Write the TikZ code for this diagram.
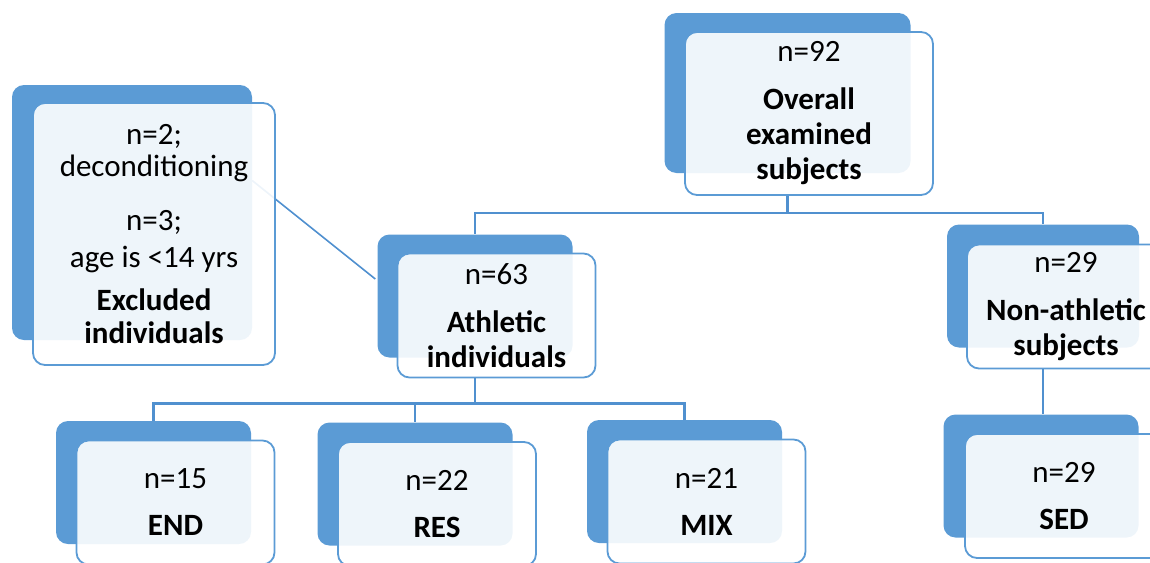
\documentclass[tikz,border=0pt]{standalone}
\usepackage{fontspec}
\setmainfont{Carlito}
\usetikzlibrary{calc}
\definecolor{azul}{HTML}{5B9BD5}
\definecolor{azullinea}{HTML}{5090CF}

\begin{document}
\begin{tikzpicture}[
            x=1pt, y=-1pt,
            fondo/.style={fill=azul, rounded corners=12pt, inner sep=0pt, minimum width=195pt, minimum height=123pt},
            frente/.style={draw=azul, line width=1.8pt, fill=white, fill opacity=0.9, text opacity=1, rounded corners=12pt,
                           inner sep=0pt, align=center, minimum width=198pt, minimum height=124pt,
                           font=\fontsize{31}{35}\selectfont},
            linea/.style={draw=azullinea, line width=2.2pt}
        ]
        \path[use as bounding box, clip] (0,0) rectangle (1150,562);

        % Tarjetas de fondo
        \node[fondo, minimum width=246pt, minimum height=160pt] (ovback) at (787.5,93) {};
        \node[fondo, minimum width=240pt, minimum height=255pt] (exback) at (132,212.5) {};
        \node[fondo] (athback) at (475,296) {};
        \node[fondo, minimum width=192pt] (nonback) at (1043,286) {};
        \node[fondo] (endback) at (153.5,482.5) {};
        \node[fondo] (resback) at (415,484) {};
        \node[fondo] (mixback) at (684.5,481.5) {};
        \node[fondo] (sedback) at (1041,476) {};

        % Excluidos hacia atletas (por debajo de la tarjeta de texto)
        \draw[linea, line width=1.6pt] ([yshift=32pt]exback.east) -- ([yshift=17pt,xshift=-2pt]athback.west);

        % Tarjetas de texto
        \node[frente, minimum width=248pt, minimum height=163pt] (ovfront) at ([shift={(21.5pt,-20.5pt)}]ovback.center)
        {n=92\\[13pt]\textbf{Overall}\\\textbf{examined}\\\textbf{subjects}};
        \node[frente, minimum width=242pt, minimum height=262pt] (exfront) at ([shift={(22pt,-21.5pt)}]exback.center)
        {n=2;\\[-3pt]deconditioning\\[19pt]n=3;\\[2pt]age is <14 yrs\\[8pt]\textbf{Excluded}\\[-2pt]\textbf{individuals}};
        \node[frente] (athfront) at ([shift={(21.5pt,-19.5pt)}]athback.center)
        {n=63\\[13pt]\textbf{Athletic}\\\textbf{individuals}};
        \node[frente] (nonfront) at ([shift={(23pt,-20.5pt)}]nonback.center)
        {n=29\\[13pt]\textbf{Non-athletic}\\\textbf{subjects}};
        \node[frente] (endfront) at ([shift={(22pt,-20pt)}]endback.center)
        {n=15\\[12pt]\textbf{END}};
        \node[frente] (resfront) at ([shift={(22pt,-20pt)}]resback.center)
        {n=22\\[12pt]\textbf{RES}};
        \node[frente] (mixfront) at ([shift={(22pt,-20pt)}]mixback.center)
        {n=21\\[12pt]\textbf{MIX}};
        \node[frente] (sedfront) at ([shift={(23pt,-20pt)}]sedback.center)
        {n=29\\[12pt]\textbf{SED}};

        % Conectores
        \coordinate (ovsplit) at ([yshift=-17pt]ovback |- ovfront.south);
        \draw[linea] (ovback |- ovfront.south) -- (ovsplit) -| (athback.north);
        \draw[linea] (ovsplit) -| (nonback.north);
        \coordinate (athsplit) at ([yshift=-25pt]athback |- athfront.south);
        \draw[linea] (athback |- athfront.south) -- (athsplit) -| (endback.north);
        \draw[linea] (athsplit) -| (resback.north);
        \draw[linea] (athsplit) -| (mixback.north);
        \draw[linea] (nonback |- nonfront.south) -- (nonback |- sedback.north);

    \end{tikzpicture}
\end{document}
